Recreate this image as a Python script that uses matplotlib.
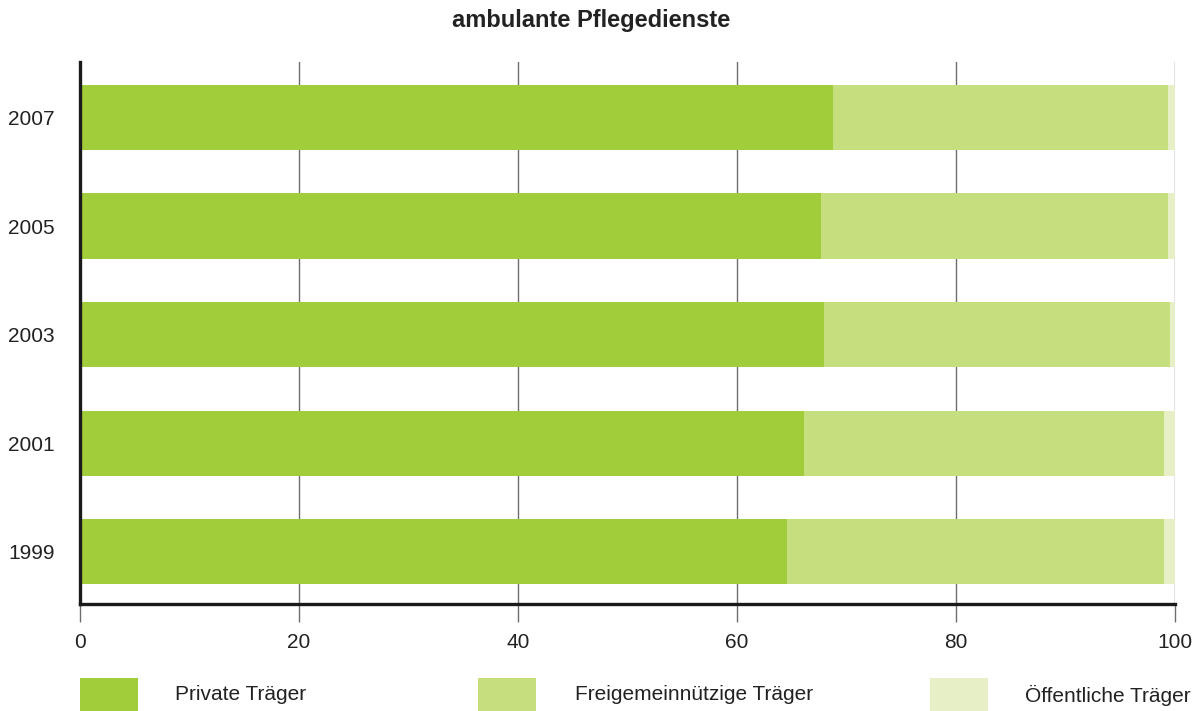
import numpy as np
import matplotlib
matplotlib.use("Agg")
import matplotlib.pyplot as plt
from matplotlib.patches import Rectangle

plt.rcParams["font.family"] = ["Liberation Sans", "DejaVu Sans"]

# data (percent shares)
years = ["1999", "2001", "2003", "2005", "2007"]
private = [64.6, 66.1, 67.9, 67.7, 68.8]
freigemein = [34.4, 32.9, 31.6, 31.7, 30.6]
oeffentlich = [1.0, 1.0, 0.5, 0.6, 0.6]
series_names = ["Private Träger", "Freigemeinnützige Träger", "Öffentliche Träger"]
colors = ["#A1CD3A", "#C5DE7E", "#E6EFC6"]

fig = plt.figure(figsize=(12.04, 7.11), dpi=100)
ax = fig.add_axes([80 / 1204, (711 - 604) / 711, (1175 - 80) / 1204, (604 - 62) / 711])

y = np.arange(len(years))
left = np.zeros(len(years))
for vals, col in zip([private, freigemein, oeffentlich], colors):
    ax.barh(y, vals, left=left, height=0.6, color=col, zorder=2)
    left += np.array(vals)

ax.set_xlim(0, 100)
ax.set_ylim(-0.48, 4.51)
ax.set_xticks([0, 20, 40, 60, 80, 100])
ax.set_yticks(y)
ax.set_yticklabels(years)
ax.grid(axis="x", color="#6e6e6e", linewidth=1.0, zorder=0)
ax.tick_params(axis="x", direction="out", length=13, width=1.0, color="#6e6e6e",
               labelsize=15, pad=8, labelcolor="#222222")
ax.tick_params(axis="y", length=0, labelsize=15, pad=18, labelcolor="#222222")
for s in ["top", "right"]:
    ax.spines[s].set_visible(False)
for s in ["left", "bottom"]:
    ax.spines[s].set_linewidth(2.4)
    ax.spines[s].set_color("#1a1a1a")
    ax.spines[s].set_zorder(3)

fig.text(591 / 1204, 1 - 20 / 711, "ambulante Pflegedienste", ha="center", va="center",
         fontsize=17, fontweight="bold", color="#222222")

# legend drawn by hand in figure pixels
legend_pos = [(80, 175), (478, 575), (930, 1025)]
for (px, tx), name, col in zip(legend_pos, series_names, colors):
    fig.patches.append(Rectangle((px / 1204, 0), 58 / 1204, 33 / 711, transform=fig.transFigure,
                                 facecolor=col, edgecolor="none"))
    fig.text(tx / 1204, 1 - 695 / 711, name, ha="left", va="center", fontsize=15, color="#222222")

fig.savefig("out.png", dpi=100)
